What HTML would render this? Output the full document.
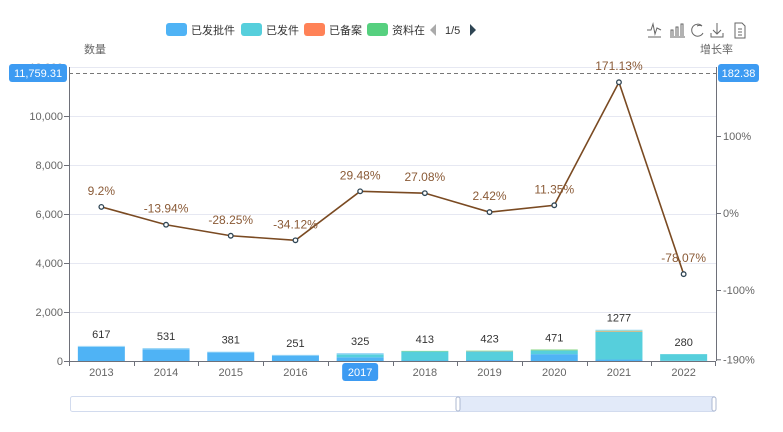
<!DOCTYPE html>
<html><head><meta charset="utf-8"><style>
body{margin:0;background:#fff;}
svg{display:block;font-family:"Liberation Sans","Noto Sans CJK SC",sans-serif;}
</style></head><body>
<svg id="s" width="783" height="432" xmlns="http://www.w3.org/2000/svg">
<g font-size="11" fill="#333">
<rect x="166" y="23" width="21" height="13" rx="3" fill="#4fb3f5"/><text x="191" y="34">已发批件</text>
<rect x="241" y="23" width="21" height="13" rx="3" fill="#56cfdc"/><text x="266" y="34">已发件</text>
<rect x="304" y="23" width="21" height="13" rx="3" fill="#ff8257"/><text x="329" y="34">已备案</text>
<rect x="367" y="23" width="21" height="13" rx="3" fill="#56d07f"/><text x="392" y="34">资料在</text>
<path d="M436 24 L430 30 L436 36 Z" fill="#aaa"/>
<text x="445" y="34">1/5</text>
<path d="M470 24 L476 30 L470 36 Z" fill="#2f4554"/>
</g>
<g stroke="#666" fill="none" stroke-width="1">
<path d="M647 30 L651 30 L653 24 L655 34 L657 28 L661 30 M648 37 L661 37"/>
<path d="M671 36 L671 30 L673 30 L673 36 M676 36 L676 27 L678 27 L678 36 M681 36 L681 24 L683 24 L683 36 M670 37 L685 37"/>
<path d="M702 26 A6 6 0 1 0 703 33 M697 26 A6 6 0 0 1 702 26"/>
<path d="M717 23 L717 34 M713 30 L717 34 L721 30 M711 33 L711 37 L723 37 L723 33"/>
<path d="M735 23 L742 23 L745 26 L745 38 L735 38 Z M738 29 L742 29 M738 32 L742 32 M738 35 L742 35"/>
</g>
<text x="84" y="53" font-size="11" fill="#666">数量</text>
<text x="700" y="53" font-size="11" fill="#666">增长率</text>
<g id="grid"></g>
<g id="bars"></g>
<g id="line"></g>
<line x1="69.5" y1="67" x2="69.5" y2="361" stroke="#6e7079"/>
<line x1="716.5" y1="67" x2="716.5" y2="361" stroke="#6e7079"/>
<line x1="69" y1="361.5" x2="716" y2="361.5" stroke="#6e7079"/>
<line x1="69" y1="73.5" x2="716" y2="73.5" stroke="#777" stroke-dasharray="4,3"/>
<rect x="9" y="64" width="58" height="18" rx="3" fill="#3d9bf2"/>
<text x="38" y="77" font-size="11" fill="#fff" text-anchor="middle">11,759.31</text>
<rect x="718" y="64" width="41" height="18" rx="3" fill="#3d9bf2"/>
<text x="738.5" y="77" font-size="11" fill="#fff" text-anchor="middle">182.38</text>
<rect x="70.5" y="396.5" width="645" height="15" rx="2" fill="#fff" stroke="#d2dbee"/>
<rect x="458" y="397" width="257" height="14" fill="#e2eaf9"/>
<rect x="456" y="397" width="4" height="14" rx="2" fill="#fff" stroke="#acb8d1"/>
<rect x="712" y="397" width="4" height="14" rx="2" fill="#fff" stroke="#acb8d1"/>
</svg>
<script>
const NS="http://www.w3.org/2000/svg";
function el(p,t,a,txt){const e=document.createElementNS(NS,t);for(const k in a)e.setAttribute(k,a[k]);if(txt!==undefined)e.textContent=txt;document.getElementById(p).appendChild(e);return e;}
const lv=["0","2,000","4,000","6,000","8,000","10,000"];
for(let i=0;i<=6;i++){const y=361-49*i;
 if(i>0)el("grid","line",{x1:69,x2:716,y1:y+.5,y2:y+.5,stroke:"#e6e8f2"});
 if(i<6){el("grid","text",{x:63,y:y+4,"font-size":11,fill:"#666","text-anchor":"end"},lv[i]);
 el("grid","line",{x1:64,x2:69,y1:y+.5,y2:y+.5,stroke:"#6e7079"});}
}
el("grid","text",{x:63,y:71,"font-size":11,fill:"#999","text-anchor":"end"},"12,000");
const rv=[[100,"100%"],[0,"0%"],[-100,"-100%"],[-190,"-190%"]];
rv.forEach(([v,t])=>{const y=213-0.77*v;el("grid","line",{x1:716,x2:721,y1:y+.5,y2:y+.5,stroke:"#6e7079"});
 el("grid","text",{x:723,y:y+4,"font-size":11,fill:"#666"},t);});
const years=[2013,2014,2015,2016,2017,2018,2019,2020,2021,2022];
const vals=[617,531,381,251,325,413,423,471,1277,280];
const pct=[9.2,-13.94,-28.25,-34.12,29.48,27.08,2.42,11.35,171.13,-78.07];
const stacks=[[580,0,0,0,37],[480,0,0,0,51],[350,0,0,0,31],[220,0,0,0,31],[150,120,0,0,55],[20,370,0,23,0],[40,350,10,23,0],[280,150,0,41,0],[60,1130,20,30,37],[10,270,0,0,0]];
const cols=["#4fb3f5","#56cfdc","#ff8257","#8fd98a","#9fd8f7"];
years.forEach((yr,i)=>{const cx=69+32.35+64.7*i;let y=361;
 stacks[i].forEach((v,j)=>{if(!v)return;const h=v*0.0245;y-=h;el("bars","rect",{x:cx-23.5,y:y,width:47,height:h,fill:cols[j]});});
 el("bars","text",{x:cx,y:361-vals[i]*0.0245-8,"font-size":11,fill:"#333","text-anchor":"middle"},vals[i]);
 el("bars","line",{x1:Math.round(69+64.7*i)+.5,x2:Math.round(69+64.7*i)+.5,y1:361,y2:366,stroke:"#6e7079"});
 if(yr===2017){el("bars","rect",{x:cx-18,y:363,width:36,height:18,rx:3,fill:"#3d9bf2"});
  el("bars","text",{x:cx,y:376,"font-size":11,fill:"#fff","text-anchor":"middle"},yr);}
 else el("bars","text",{x:cx,y:376,"font-size":11,fill:"#666","text-anchor":"middle"},yr);
});
el("bars","line",{x1:715.5,x2:715.5,y1:361,y2:366,stroke:"#6e7079"});
let pts=pct.map((p,i)=>[69+32.35+64.7*i,214-0.77*p]);
el("line","polyline",{points:pts.map(p=>p.join(",")).join(" "),fill:"none",stroke:"#7a4a22","stroke-width":1.6});
pts.forEach((p,i)=>{el("line","circle",{cx:p[0],cy:p[1],r:2.3,fill:"#fff",stroke:"#2f4554","stroke-width":1.3});
 el("line","text",{x:p[0],y:p[1]-12,"font-size":12,fill:"#8a5a36","text-anchor":"middle"},pct[i]+"%");});
</script>
</body></html>
